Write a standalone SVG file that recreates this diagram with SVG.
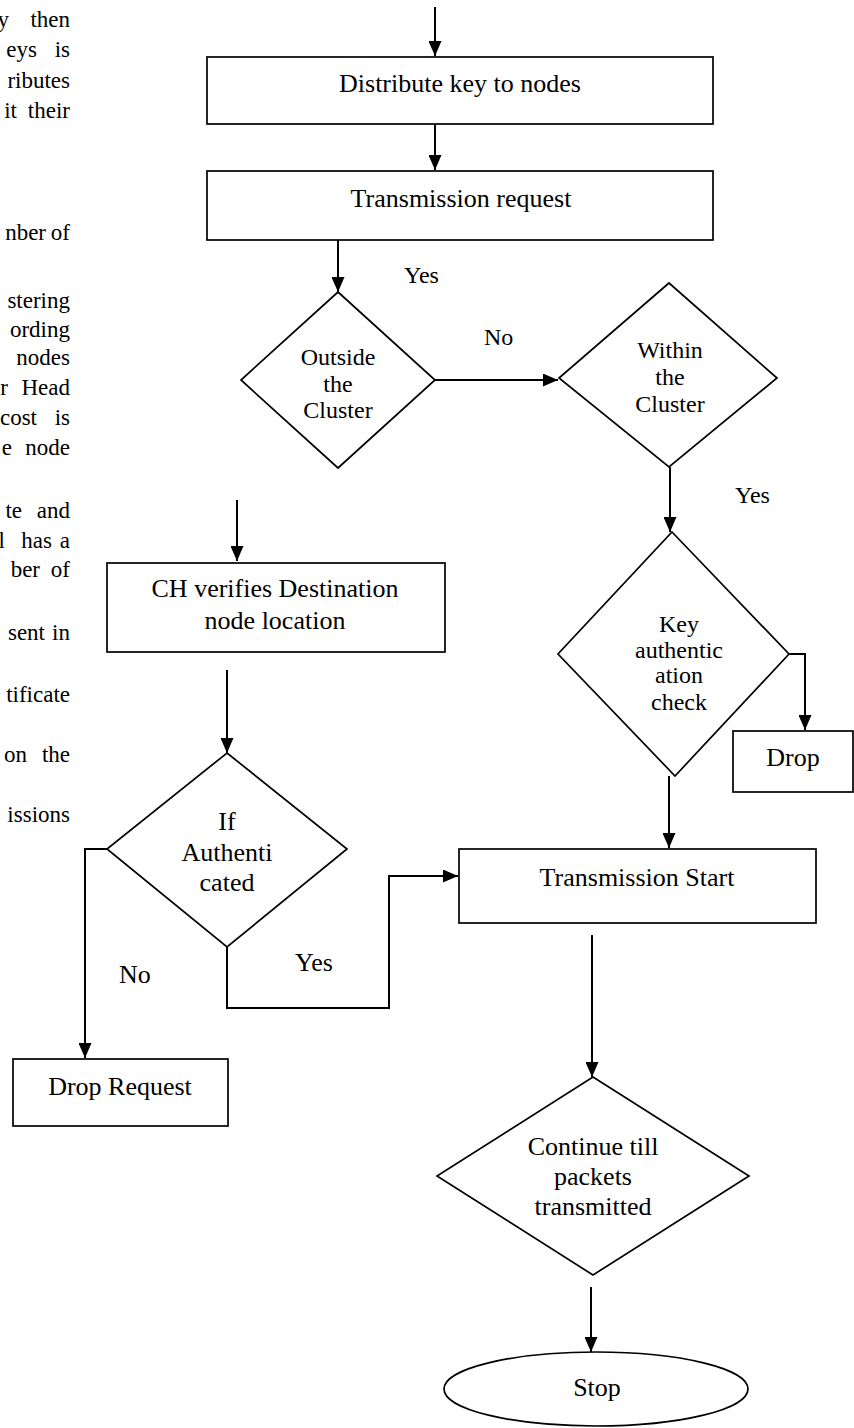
<svg xmlns="http://www.w3.org/2000/svg" width="854" height="1428" viewBox="0 0 854 1428">
<defs>
<marker id="ah" markerUnits="userSpaceOnUse" markerWidth="15" markerHeight="13" refX="15" refY="6.5" orient="auto">
<path d="M0,0 L15,6.5 L0,13 z" fill="#000"/>
</marker>
<style>
.t{font-family:"Liberation Serif","Times New Roman",serif;fill:#000}
.s26{font-size:26px}
.s24{font-size:24px}
.s23{font-size:23px}
.c{text-anchor:middle}
.e{text-anchor:end}
.shape{fill:#fff;stroke:#000;stroke-width:1.7}
.conn{fill:none;stroke:#000;stroke-width:2}
.arr{marker-end:url(#ah)}
</style>
</defs>
<rect width="854" height="1428" fill="#fff"/>

<g id="page-text" class="t s23">
<text x="9" y="27" class="e">y</text><text x="70" y="27" class="e">then</text>
<text x="37" y="57" class="e">eys</text><text x="70" y="57" class="e">is</text>
<text x="70" y="88" class="e">ributes</text>
<text x="17" y="118" class="e">it</text><text x="70" y="118" class="e">their</text>
<text x="46" y="240" class="e">nber</text><text x="70" y="240" class="e">of</text>
<text x="70" y="308" class="e">stering</text>
<text x="70" y="337" class="e">ording</text>
<text x="70" y="365" class="e">nodes</text>
<text x="8" y="395" class="e">r</text><text x="70" y="395" class="e">Head</text>
<text x="37" y="425" class="e">cost</text><text x="70" y="425" class="e">is</text>
<text x="12" y="455" class="e">e</text><text x="70" y="455" class="e">node</text>
<text x="22" y="518" class="e">te</text><text x="70" y="518" class="e">and</text>
<text x="5" y="548" class="e">l</text><text x="52" y="548" class="e">has</text><text x="70" y="548" class="e">a</text>
<text x="40" y="577" class="e">ber</text><text x="70" y="577" class="e">of</text>
<text x="45" y="640" class="e">sent</text><text x="70" y="640" class="e">in</text>
<text x="70" y="702" class="e">tificate</text>
<text x="27" y="762" class="e">on</text><text x="70" y="762" class="e">the</text>
<text x="70" y="822" class="e">issions</text>
</g>

<g id="connectors">
<line class="conn arr" x1="435" y1="7" x2="435" y2="56"/>
<line class="conn arr" x1="435" y1="124" x2="435" y2="170"/>
<line class="conn arr" x1="338" y1="240" x2="338" y2="292"/>
<line class="conn arr" x1="435" y1="380" x2="558" y2="380"/>
<line class="conn arr" x1="670" y1="467" x2="670" y2="532"/>
<polyline class="conn arr" points="789,654 805,654 805,730"/>
<line class="conn arr" x1="669" y1="776" x2="669" y2="848"/>
<line class="conn arr" x1="237" y1="500" x2="237" y2="561"/>
<line class="conn arr" x1="227" y1="670" x2="227" y2="753"/>
<polyline class="conn arr" points="107,849 85,849 85,1058"/>
<polyline class="conn arr" points="227,947 227,1008 389,1008 389,876 458,876"/>
<line class="conn arr" x1="592" y1="935" x2="592" y2="1077"/>
<line class="conn arr" x1="591" y1="1287" x2="591" y2="1352"/>
<text class="t s24" x="404" y="283">Yes</text>
<text class="t s24" x="484" y="345">No</text>
<text class="t s24" x="735" y="503">Yes</text>
<text class="t s26" x="119" y="983">No</text>
<text class="t s26" x="295" y="971">Yes</text>
</g>

<g id="distribute">
<rect class="shape" x="207" y="57" width="506" height="67"/>
<text class="t s26 c" x="460" y="92">Distribute key to nodes</text>
</g>
<g id="request">
<rect class="shape" x="207" y="171" width="506" height="69"/>
<text class="t s26 c" x="461" y="207">Transmission request</text>
</g>
<g id="outside">
<polygon class="shape" points="338,292 435,380 338,468 241,380"/>
<text class="t s24 c" x="338" y="365">Outside</text>
<text class="t s24 c" x="338" y="392">the</text>
<text class="t s24 c" x="338" y="418">Cluster</text>
</g>
<g id="within">
<polygon class="shape" points="669,283 777,378 669,467 559,378"/>
<text class="t s24 c" x="670" y="358">Within</text>
<text class="t s24 c" x="670" y="385">the</text>
<text class="t s24 c" x="670" y="412">Cluster</text>
</g>
<g id="keycheck">
<polygon class="shape" points="672,532 789,654 675,776 558,654"/>
<text class="t s24 c" x="679" y="632">Key</text>
<text class="t s24 c" x="679" y="658">authentic</text>
<text class="t s24 c" x="679" y="683">ation</text>
<text class="t s24 c" x="679" y="710">check</text>
</g>
<g id="drop">
<rect class="shape" x="733" y="731" width="120" height="61"/>
<text class="t s26 c" x="793" y="766">Drop</text>
</g>
<g id="chverify">
<rect class="shape" x="107" y="563" width="338" height="89"/>
<text class="t s26 c" x="275" y="597">CH verifies Destination</text>
<text class="t s26 c" x="275" y="629">node location</text>
</g>
<g id="ifauth">
<polygon class="shape" points="227,753 347,849 227,947 107,849"/>
<text class="t s26 c" x="227" y="830">If</text>
<text class="t s26 c" x="227" y="861">Authenti</text>
<text class="t s26 c" x="227" y="891">cated</text>
</g>
<g id="droprequest">
<rect class="shape" x="13" y="1059" width="215" height="67"/>
<text class="t s26 c" x="120" y="1095">Drop Request</text>
</g>
<g id="transstart">
<rect class="shape" x="459" y="849" width="357" height="74"/>
<text class="t s26 c" x="637" y="886">Transmission Start</text>
</g>
<g id="continue">
<polygon class="shape" points="593,1077 749,1176 593,1275 437,1176"/>
<text class="t s26 c" x="593" y="1155">Continue till</text>
<text class="t s26 c" x="593" y="1185">packets</text>
<text class="t s26 c" x="593" y="1215">transmitted</text>
</g>
<g id="stop">
<ellipse class="shape" cx="596" cy="1389" rx="152" ry="37"/>
<text class="t s26 c" x="597" y="1396">Stop</text>
</g>
</svg>
